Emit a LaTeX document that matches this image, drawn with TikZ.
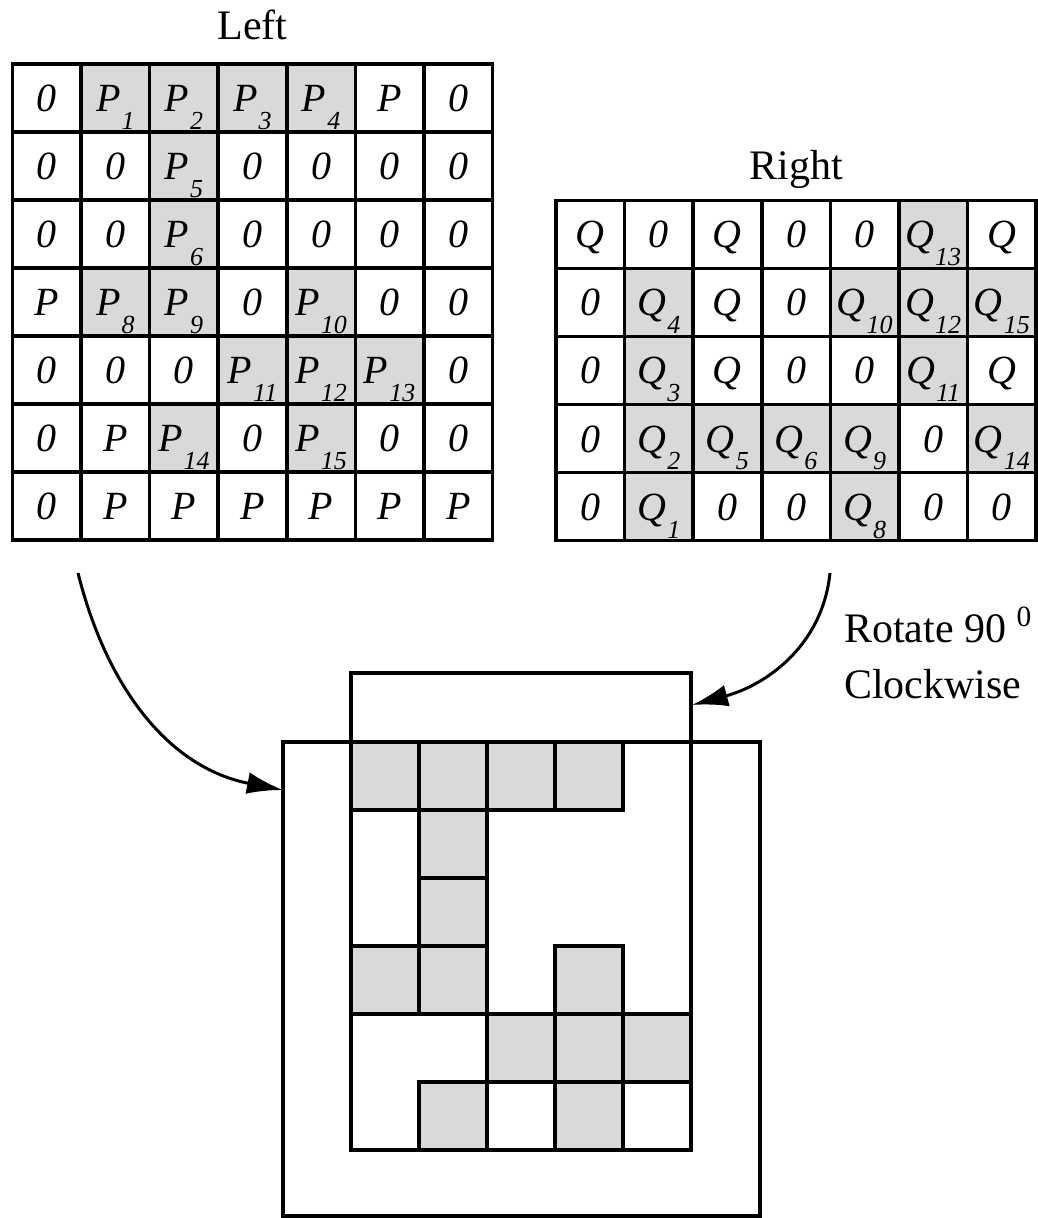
\documentclass[tikz,border=0pt]{standalone}
\usepackage{fontspec}
\setmainfont{Liberation Serif}
\usetikzlibrary{arrows.meta,matrix}

\newcommand{\lab}[2]{#1\kern0.5pt\raisebox{-9pt}{\fontsize{13}{13}\selectfont #2}}

\begin{document}
\begin{tikzpicture}[
  x=0.5pt,
  y=0.5pt,
  cell/.style={draw=black,line width=1.8pt,minimum width=34.3pt,minimum height=34pt,
    inner sep=0pt,text height=13.5pt,text depth=0pt,font=\fontsize{20}{20}\selectfont\itshape},
  hit/.style={fill=black!15},
  heading/.style={font=\fontsize{21}{28}\selectfont},
  plate/.style={draw=black,line width=1.8pt},
  flow/.style={line width=1.5pt,-{Latex[length=18pt,width=11pt]}}
]
  \useasboundingbox (0,0) rectangle (1037,-1218);

  \node[heading,anchor=base] (lefttitle) at (252.5,-40) {Left};
  \matrix (leftgrid) at (252.5,-302) [matrix of nodes,nodes={cell},
    column sep=-1.8pt,row sep=-1.8pt]
  {
    0 & |[hit]| \lab{P}{1} & |[hit]| \lab{P}{2} & |[hit]| \lab{P}{3} & |[hit]| \lab{P}{4} & P & 0 \\
    0 & 0 & |[hit]| \lab{P}{5} & 0 & 0 & 0 & 0 \\
    0 & 0 & |[hit]| \lab{P}{6} & 0 & 0 & 0 & 0 \\
    P & |[hit]| \lab{P}{8} & |[hit]| \lab{P}{9} & 0 & |[hit]| \lab{P}{10} & 0 & 0 \\
    0 & 0 & 0 & |[hit]| \lab{P}{11} & |[hit]| \lab{P}{12} & |[hit]| \lab{P}{13} & 0 \\
    0 & P & |[hit]| \lab{P}{14} & 0 & |[hit]| \lab{P}{15} & 0 & 0 \\
    0 & P & P & P & P & P & P \\
  };

  \node[heading,anchor=base] (righttitle) at (796,-180) {Right};
  \matrix (rightgrid) at (796,-370.5) [matrix of nodes,nodes={cell},
    column sep=-1.8pt,row sep=-1.8pt]
  {
    Q & 0 & Q & 0 & 0 & |[hit]| \lab{Q}{13} & Q \\
    0 & |[hit]| \lab{Q}{4} & Q & 0 & |[hit]| \lab{Q}{10} & |[hit]| \lab{Q}{12} & |[hit]| \lab{Q}{15} \\
    0 & |[hit]| \lab{Q}{3} & Q & 0 & 0 & |[hit]| \lab{Q}{11} & Q \\
    0 & |[hit]| \lab{Q}{2} & |[hit]| \lab{Q}{5} & |[hit]| \lab{Q}{6} & |[hit]| \lab{Q}{9} & 0 & |[hit]| \lab{Q}{14} \\
    0 & |[hit]| \lab{Q}{1} & 0 & 0 & |[hit]| \lab{Q}{8} & 0 & 0 \\
  };

  % overlap of the two grids
  \draw[plate] (351,-673) rectangle (691,-1150);
  \draw[plate] (283,-742) rectangle (760,-1216);
  \foreach \c/\r in {1/1,2/1,3/1,4/1,2/2,2/3,1/4,2/4,4/4,3/5,4/5,5/5,2/6,4/6}
    \draw[plate,hit] ({351+68*(\c-1)},{-742-68*(\r-1)}) rectangle ++(68,-68);

  \node[heading,align=left,anchor=base west] (rotnote) at (837,-698)
    {Rotate 90 \textsuperscript{0}\\Clockwise};

  \coordinate (leftfrom) at (78,-573);
  \coordinate (leftto) at (283,-790);
  \coordinate (rightfrom) at (830,-573);
  \coordinate (rightto) at (692,-705);
  \draw[flow] (leftfrom) to[out=-76,in=169] (leftto);
  \draw[flow] (rightfrom) to[out=-96,in=15] (rightto);
\end{tikzpicture}
\end{document}
